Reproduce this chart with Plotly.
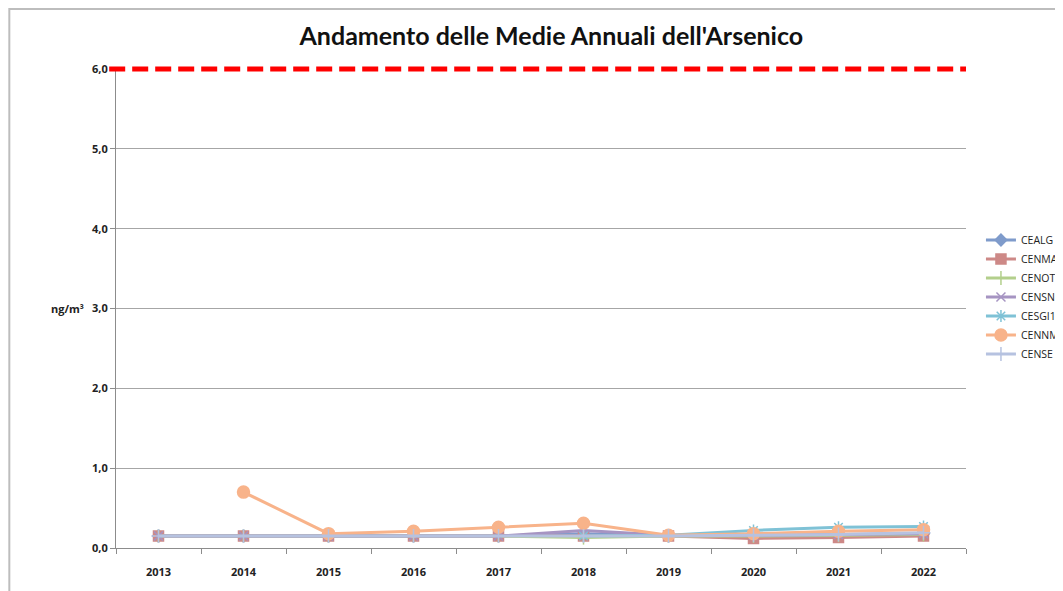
import plotly.graph_objects as go

# ── Data ──────────────────────────────────────────────────
YEARS = ["2013", "2014", "2015", "2016", "2017", "2018", "2019", "2020", "2021", "2022"]

CEALG = [0.15, 0.15, 0.15, 0.15, 0.15, 0.18, 0.15, 0.16, 0.17, 0.18]
CENMA = [0.15, 0.15, 0.15, 0.15, 0.15, 0.15, 0.15, 0.12, 0.13, 0.15]
CENOT = [0.15, 0.15, 0.15, 0.15, 0.15, 0.13, 0.15, 0.15, 0.16, 0.17]
CENSN = [0.15, 0.15, 0.15, 0.15, 0.15, 0.22, 0.16, 0.16, 0.17, 0.18]
CESGI1 = [None, None, None, None, None, 0.15, 0.16, 0.22, 0.26, 0.27]
CENNM = [None, 0.70, 0.18, 0.21, 0.26, 0.31, 0.16, 0.18, 0.21, 0.23]
CENSE = [0.15, 0.15, 0.15, 0.15, 0.15, 0.15, 0.15, 0.16, 0.17, 0.19]

LIMIT = 6.0
Y_MAX = 6.0

SERIES = [
    ("CEALG", CEALG, "#7F9BCB", "diamond", 9),
    ("CENMA", CENMA, "#CD8987", "square", 10),
    ("CENOT", CENOT, "#B3CF8C", "line-ns", 10),
    ("CENSN", CENSN, "#A694C2", "x-thin", 9),
    ("CESGI1", CESGI1, "#7FC2D6", "asterisk", 10),
    ("CENNM", CENNM, "#F8B38A", "circle", 12),
    ("CENSE", CENSE, "#B6C2E0", "cross-thin", 10),
]

fig = go.Figure()

for name, vals, color, symbol, size in SERIES:
    fig.add_trace(go.Scatter(
        x=YEARS, y=vals, name=name, mode="lines+markers",
        line=dict(color=color, width=3),
        marker=dict(symbol=symbol, size=size, color=color,
                    line=dict(color=color, width=1.5)),
        connectgaps=False,
    ))

# limit line (paper ref so it is not clipped at the top of the plot area)
fig.add_shape(type="line", xref="paper", yref="paper", x0=-0.008, x1=1.0,
              y0=LIMIT / Y_MAX, y1=LIMIT / Y_MAX,
              line=dict(color="#FF0000", width=5, dash="16px,7px"))

# chart frame (page offsets the figure by 8px, so the frame sits near the figure edge)
fig.add_shape(type="rect", xref="paper", yref="paper", x0=-0.1255, x1=1.3,
              y0=-0.3, y1=1.1253, line=dict(color="#BDBDBD", width=2), layer="below")

fig.add_annotation(text="<b>ng/m³</b>", xref="paper", yref="paper",
                   x=-0.0788, y=0.5, showarrow=False,
                   font=dict(size=11, color="#222222"))

fig.update_layout(
    width=1055, height=583,
    paper_bgcolor="white", plot_bgcolor="white",
    separators=",.",
    font=dict(family="Open Sans, sans-serif", color="#222222"),
    title=dict(text="<b>Andamento delle Medie Annuali dell'Arsenico</b>",
               x=0.515, xanchor="center", y=0.952, yanchor="middle",
               font=dict(size=25, color="#111111", family="Lato, sans-serif")),
    margin=dict(l=108, r=97, t=61, b=43, autoexpand=False),
    showlegend=True,
    legend=dict(x=1.0176, xanchor="left", y=0.524, yanchor="middle",
                font=dict(size=10.5, color="#222222"),
                bgcolor="rgba(0,0,0,0)", tracegroupgap=0),
    xaxis=dict(type="category", range=[-0.5, 9.5], showgrid=False,
               showline=True, linecolor="#8C8C8C", linewidth=1,
               ticks="outside", tickson="boundaries", ticklen=5, tickcolor="#8C8C8C",
               tickfont=dict(size=11, color="#222222", weight="bold"),
               ticklabelstandoff=14, fixedrange=True),
    yaxis=dict(range=[0, Y_MAX], dtick=1, tickformat=".1f", showgrid=True,
               gridcolor="#A6A6A6", gridwidth=1, zeroline=False,
               showline=True, linecolor="#8C8C8C", linewidth=1,
               ticks="outside", ticklen=5, tickcolor="#8C8C8C",
               tickfont=dict(size=11, color="#222222", weight="bold"), fixedrange=True),
)

fig.write_html("out.html")
